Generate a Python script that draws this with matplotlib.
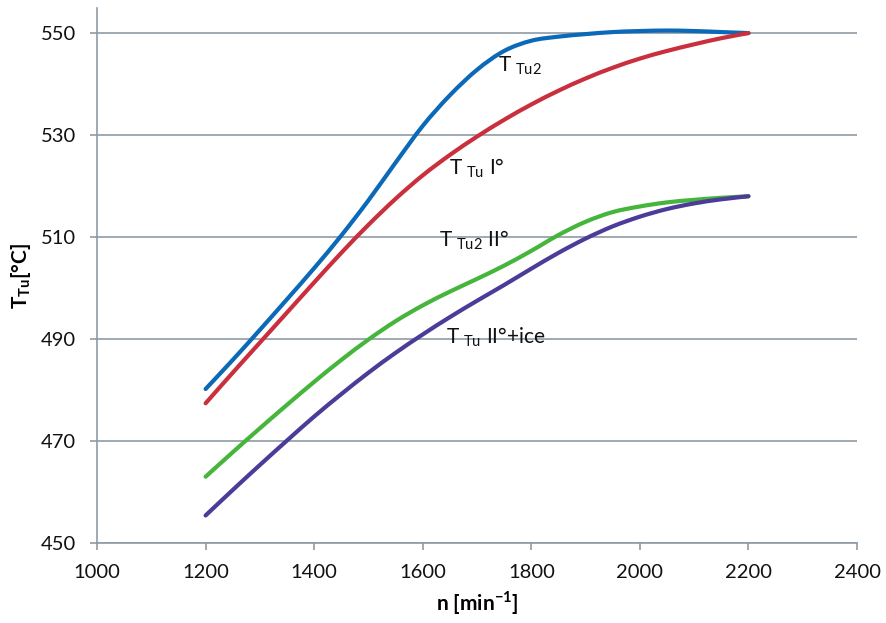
import matplotlib
matplotlib.use("Agg")
import matplotlib.pyplot as plt
from matplotlib.path import Path
from matplotlib.patches import PathPatch

plt.rcParams["font.family"] = ["Lato", "DejaVu Sans"]
plt.rcParams["mathtext.fontset"] = "custom"
plt.rcParams["mathtext.rm"] = "Lato"
plt.rcParams["mathtext.bf"] = "Lato:bold"

# speed [min-1]
n = [1200, 1250, 1300, 1350, 1400, 1450, 1500, 1550, 1600, 1650, 1700,
     1750, 1800, 1850, 1900, 1950, 2000, 2050, 2100, 2150, 2200]

t_tu2 = [480.2, 485.9, 491.8, 497.8, 503.9, 510.3, 517.2, 524.6, 531.8, 537.8, 542.8,
         546.5, 548.5, 549.3, 549.8, 550.2, 550.4, 550.5, 550.4, 550.2, 550.0]
t_tu_1 = [477.4, 483.4, 489.3, 495.2, 501.1, 506.9, 512.4, 517.5, 522.1, 526.1, 529.7,
          533.0, 536.0, 538.7, 541.1, 543.2, 545.0, 546.5, 547.8, 549.0, 550.0]
t_tu2_2 = [463.0, 467.8, 472.5, 477.1, 481.6, 485.9, 489.9, 493.5, 496.6, 499.3, 501.8,
           504.4, 507.3, 510.4, 513.0, 514.9, 516.0, 516.8, 517.3, 517.7, 518.0]
t_tu_2_ice = [455.4, 460.4, 465.3, 470.1, 474.8, 479.2, 483.4, 487.3, 490.9, 494.3, 497.5,
              500.6, 503.8, 506.9, 509.7, 512.1, 514.0, 515.5, 516.6, 517.4, 518.0]

series = [
    (t_tu2, "#0b69b7"),
    (t_tu_1, "#c92f3d"),
    (t_tu2_2, "#45b53b"),
    (t_tu_2_ice, "#4c3b98"),
]

# in-plot labels: (text, n, T)
labels = [
    (r"T$_{\mathrm{\ Tu2}}$", 1738, 542.4),
    (r"T$_{\mathrm{\ Tu}}$ I°", 1648, 522.3),
    (r"T$_{\mathrm{\ Tu2}}$ II°", 1630, 508.2),
    (r"T$_{\mathrm{\ Tu}}$ II°+ice", 1643, 489.1),
]

GRID = "#8d9ba6"


def smooth_path(xs, ys):
    """Excel-style smoothed line: cubic Bezier segments through the points."""
    pts = list(zip(xs, ys))
    verts, codes = [pts[0]], [Path.MOVETO]
    for i in range(len(pts) - 1):
        p0 = pts[max(i - 1, 0)]
        p1, p2 = pts[i], pts[i + 1]
        p3 = pts[min(i + 2, len(pts) - 1)]
        c1 = (p1[0] + (p2[0] - p0[0]) / 6, p1[1] + (p2[1] - p0[1]) / 6)
        c2 = (p2[0] - (p3[0] - p1[0]) / 6, p2[1] - (p3[1] - p1[1]) / 6)
        verts += [c1, c2, p2]
        codes += [Path.CURVE4] * 3
    return Path(verts, codes)


fig = plt.figure(figsize=(8.86, 6.23), dpi=100)
ax = fig.add_axes([0.1095, 0.1284, 0.8578, 0.8586])

for y, c in series:
    ax.add_patch(PathPatch(smooth_path(n, y), facecolor="none", edgecolor=c, lw=3.0,
                           capstyle="round", joinstyle="round", zorder=3))

for txt, x, y in labels:
    ax.text(x, y, txt, fontsize=15, color="#111111", va="baseline", ha="left", zorder=4)

ax.set_xlim(1000, 2400)
ax.set_ylim(450, 554.9)
ax.set_xticks(range(1000, 2401, 200))
ax.set_yticks(range(450, 551, 20))
ax.yaxis.grid(True, color=GRID, lw=1.2)
ax.set_axisbelow(True)

for side in ("top", "right"):
    ax.spines[side].set_visible(False)
for side in ("left", "bottom"):
    ax.spines[side].set_color(GRID)
    ax.spines[side].set_linewidth(1.2)
ax.tick_params(direction="out", length=5, width=1.2, color=GRID,
               labelsize=14.5, labelcolor="#111111", pad=10)

ax.set_xlabel(r"n [min$^{\mathbf{-1}}$]", fontsize=15, fontweight="bold", labelpad=6)
ax.set_ylabel(r"T$_{\mathbf{Tu}}$[°C]", fontsize=15, fontweight="bold", labelpad=6)

fig.savefig("out.png", dpi=100, facecolor="white")
